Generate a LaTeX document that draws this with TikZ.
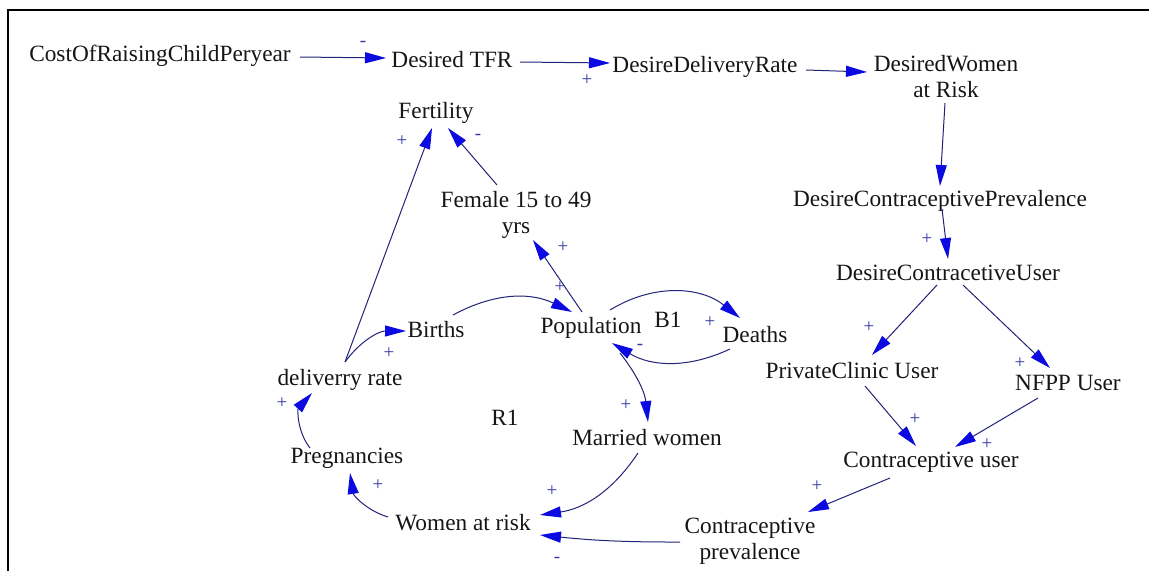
\documentclass[tikz,border=0pt]{standalone}
\usepackage{fontspec}
\setmainfont{Liberation Serif}
\usetikzlibrary{arrows.meta}
\definecolor{inkline}{RGB}{35,35,120}
\definecolor{tipblue}{RGB}{10,10,225}
\definecolor{vartext}{RGB}{22,22,22}
\definecolor{signblue}{RGB}{55,55,165}

\begin{document}
\begin{tikzpicture}[x=1pt,y=-1pt,
  var/.style={font=\fontsize{23.3}{26}\selectfont, text=vartext, inner sep=0pt, anchor=base},
  vartwo/.style={font=\fontsize{23.3}{26}\selectfont, text=vartext, inner sep=0pt, anchor=center, align=center},
  sign/.style={font=\fontsize{19}{19}\selectfont, text=signblue, inner sep=0pt, anchor=center},
  link/.style={draw=inkline, line width=1pt, -{Triangle[length=21pt,width=11pt,color=tipblue]}},
]
% page and frame
\fill[white] (0,0) rectangle (1149,571);
\useasboundingbox (0,0) rectangle (1149,571);
\draw[line width=2pt, black] (8,571) -- (8,10) -- (1149,10);

% variables
\node[var] (cost) at (160,61) {CostOfRaisingChildPeryear};
\node[var] (tfr) at (452,67) {Desired TFR};
\node[var] (ddr) at (705,72) {DesireDeliveryRate};
\node[vartwo] (dwr) at (946,77) {DesiredWomen\\at Risk};
\node[var] (dcp) at (940,206) {DesireContraceptivePrevalence};
\node[var] (dcu) at (948,280) {DesireContracetiveUser};
\node[var] (pcu) at (852,378) {PrivateClinic User};
\node[var] (nfpp) at (1068,390) {NFPP User};
\node[var] (cu) at (931,467) {Contraceptive user};
\node[vartwo] (cp) at (750,541) {Contraceptive\\prevalence};
\node[var] (wr) at (463,530) {Women at risk};
\node[var] (mw) at (647,445) {Married women};
\node[var] (preg) at (347,463) {Pregnancies};
\node[var] (dr) at (340,385) {deliverry rate};
\node[var] (births) at (436,337) {Births};
\node[var] (pop) at (591,333) {Population};
\node[var] (deaths) at (755,342) {Deaths};
\node[var] (fert) at (436,118) {Fertility};
\node[vartwo] (female) at (516,215) {Female 15 to 49\\yrs};

% loop names
\node[var] (loopB) at (668,327) {B1};
\node[var] (loopR) at (505,425) {R1};

% causal links
\draw[link] ([shift={(140,-4)}]cost.base) -- ([shift={(-66,-9)}]tfr.base);
\draw[link] ([shift={(68,-5)}]tfr.base) -- ([shift={(-95,-9)}]ddr.base);
\draw[link] ([shift={(101,-2)}]ddr.base) -- ([shift={(-79,-5)}]dwr.center);
\draw[link] ([shift={(-1,26)}]dwr.center) -- ([shift={(0,-20)}]dcp.base);
\draw[link] ([shift={(2,3)}]dcp.base) -- ([shift={(0,-21)}]dcu.base);
\draw[link] ([shift={(-11,5)}]dcu.base) -- ([shift={(20,-23)}]pcu.base);
\draw[link] ([shift={(15,5)}]dcu.base) -- ([shift={(-18,-22)}]nfpp.base);
\draw[link] ([shift={(13,8)}]pcu.base) -- ([shift={(-15,-21)}]cu.base);
\draw[link] ([shift={(-30,8)}]nfpp.base) -- ([shift={(24,-20)}]cu.base);
\draw[link] ([shift={(-41,11)}]cu.base) -- ([shift={(58,-29)}]cp.center);
\draw[link] ([shift={(-70,1)}]cp.center) to[bend left=3] ([shift={(77,5)}]wr.base);
\draw[link] ([shift={(-9,8)}]mw.base) to[bend left=24] ([shift={(77,-15)}]wr.base);
\draw[link] ([shift={(-75,-13)}]wr.base) to[bend left=32] ([shift={(3,10)}]preg.base);
\draw[link] ([shift={(-37,-15)}]preg.base) to[bend left=40] ([shift={(-28,8)}]dr.base);
\draw[link] ([shift={(5,-23)}]dr.base) to[bend left=27] ([shift={(-30,-6)}]births.base);
\draw[link] ([shift={(5,-23)}]dr.base) -- ([shift={(-4,10)}]fert.base);
\draw[link] ([shift={(-19,-30)}]female.center) -- ([shift={(12,10)}]fert.base);
\draw[link] ([shift={(17,-22)}]births.base) to[bend left=27] ([shift={(-19,-21)}]pop.base);
\draw[link] ([shift={(-9,-21)}]pop.base) -- ([shift={(17,25)}]female.center);
\draw[link] ([shift={(19,-23)}]pop.base) to[bend left=35] ([shift={(-15,-24)}]deaths.base);
\draw[link] ([shift={(-25,7)}]deaths.base) to[bend left=28] ([shift={(21,10)}]pop.base);
\draw[link] ([shift={(29,20)}]pop.base) to[bend left=16] ([shift={(1,-23)}]mw.base);

% link polarities
\node[sign] (s1) at (363,44) {-};
\node[sign] (s2) at (587,80) {+};
\node[sign] (s3) at (927,239) {+};
\node[sign] (s4) at (869,327) {+};
\node[sign] (s5) at (1020,363) {+};
\node[sign] (s6) at (915,419) {+};
\node[sign] (s7) at (987,444) {+};
\node[sign] (s8) at (817,486) {+};
\node[sign] (s9) at (557,560) {-};
\node[sign] (s10) at (552,491) {+};
\node[sign] (s11) at (378,485) {+};
\node[sign] (s12) at (282,403) {+};
\node[sign] (s13) at (389,353) {+};
\node[sign] (s14) at (402,141) {+};
\node[sign] (s15) at (478,137) {-};
\node[sign] (s16) at (560,287) {+};
\node[sign] (s17) at (563,247) {+};
\node[sign] (s18) at (710,322) {+};
\node[sign] (s19) at (640,347) {-};
\node[sign] (s20) at (626,405) {+};
\end{tikzpicture}
\end{document}
